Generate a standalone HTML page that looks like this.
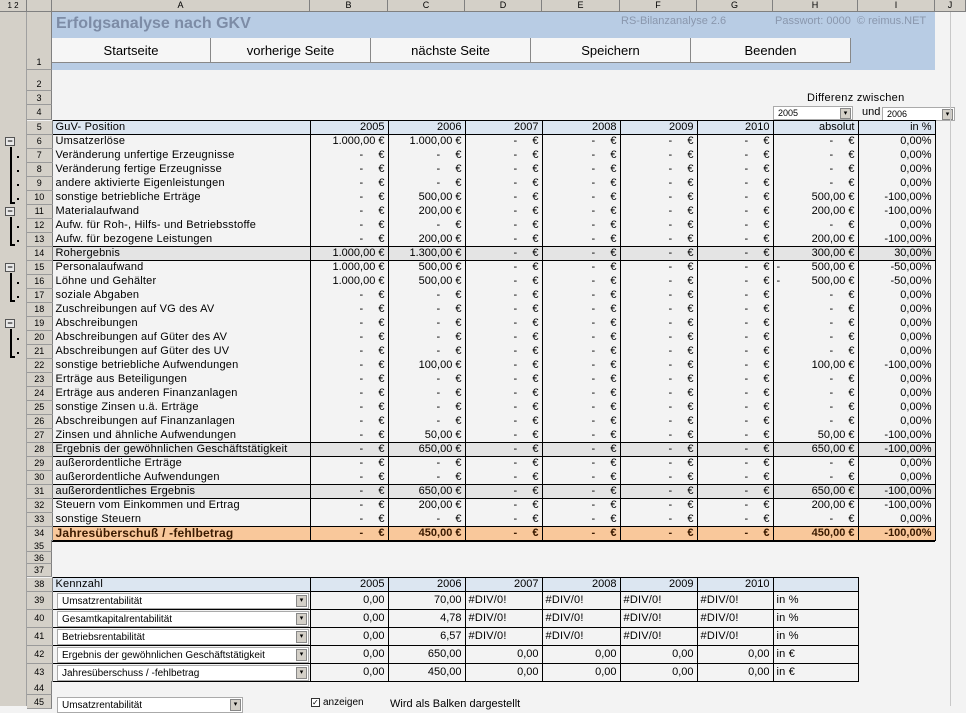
<!DOCTYPE html>
<html><head><meta charset="utf-8">
<style>
*{box-sizing:border-box;margin:0;padding:0}
body{width:966px;height:706px;overflow:hidden;background:#f3f3f3;font-family:"Liberation Sans",sans-serif;font-size:11px;color:#000;position:relative}
.a{position:absolute}
.hdr{top:0;height:12px;background:#d4d0c8;border-right:1px solid #808080;border-bottom:1px solid #808080;font-size:9px;text-align:center;line-height:11px}
.rn{left:27px;width:25px;background:#d4d0c8;border-bottom:1px solid #9a9a9a;border-right:1px solid #808080;font-size:9px;text-align:center}
table{border-collapse:collapse;table-layout:fixed;position:absolute}
td{height:14px;padding:0 3px;white-space:nowrap;overflow:hidden;line-height:13px;border-left:1px solid #000;border-right:1px solid #000;text-align:right;font-size:11px}
td.l{text-align:left;letter-spacing:0.2px}
tr.h td{background:#dce6f1;border-top:1px solid #000;border-bottom:1px solid #000}
tr.g td{background:#e4e4e4;border-top:1px solid #000;border-bottom:1px solid #000}
tr.o td{background:#f9c89b;border-top:1px solid #000;border-bottom:1px solid #000;font-weight:bold;color:#3a1a00}
.btn{top:38px;height:25px;background:#f6f6f6;border-right:1px solid #888;border-bottom:1px solid #888;font-size:13px;text-align:center;line-height:25px}
.k td{height:18px;line-height:17px;border:1px solid #000}
.dd{background:#fff;border:1px solid #aaa;font-size:10px;padding-left:4px;line-height:15px;height:16px}
.ddb{position:absolute;right:1px;top:1px;width:11px;height:12px;background:#d4d0c8;border:1px solid #888;font-size:7px;line-height:10px;text-align:center}
.mn{left:5px;width:10px;height:9px;border:1px solid #555;background:#e8e8e8;font-size:9px;line-height:6px;text-align:center;font-weight:bold}
.br{left:10px;width:5px;border-left:2px solid #000;border-bottom:2px solid #000}
.dot{left:17px;width:2px;height:2px;background:#000}
</style></head><body>
<div class="a hdr" style="left:0;width:27px;font-size:8px">1 2</div>
<div class="a hdr" style="left:27px;width:25px"></div>
<div class="a hdr" style="left:52px;width:258px">A</div>
<div class="a hdr" style="left:310px;width:78px">B</div>
<div class="a hdr" style="left:388px;width:77px">C</div>
<div class="a hdr" style="left:465px;width:77px">D</div>
<div class="a hdr" style="left:542px;width:78px">E</div>
<div class="a hdr" style="left:620px;width:77px">F</div>
<div class="a hdr" style="left:697px;width:76px">G</div>
<div class="a hdr" style="left:773px;width:85px">H</div>
<div class="a hdr" style="left:858px;width:77px">I</div>
<div class="a hdr" style="left:935px;width:31px">J</div>
<div class="a" style="left:0;top:12px;width:27px;height:694px;background:#d4d0c8;border-right:1px solid #a0a0a0"></div>
<div class="a rn" style="top:12px;height:58px;line-height:100px">1</div>
<div class="a rn" style="top:70px;height:21px;line-height:28px">2</div>
<div class="a rn" style="top:91px;height:14px;line-height:14px">3</div>
<div class="a rn" style="top:105px;height:15px;line-height:15px">4</div>
<div class="a" style="left:52px;top:12px;width:883px;height:58px;background:#b8cce4"></div>
<div class="a" style="left:56px;top:15px;font-size:16px;font-weight:bold;color:#7d8ca6">Erfolgsanalyse nach GKV</div>
<div class="a" style="left:621px;top:15px;font-size:11px;color:#8a97ad">RS-Bilanzanalyse 2.6</div>
<div class="a" style="left:775px;top:15px;font-size:11px;color:#8a97ad">Passwort: 0000 &nbsp;© reimus.NET</div>
<div class="a btn" style="left:52px;width:159px">Startseite</div>
<div class="a btn" style="left:211px;width:160px">vorherige Seite</div>
<div class="a btn" style="left:371px;width:160px">nächste Seite</div>
<div class="a btn" style="left:531px;width:160px">Speichern</div>
<div class="a btn" style="left:691px;width:160px">Beenden</div>
<div class="a" style="left:807px;top:92px;font-size:11px;letter-spacing:0.3px">Differenz zwischen</div>
<div class="a dd" style="left:773px;top:106px;width:80px;height:14px;line-height:12px;font-size:9px">2005<div class="ddb" style="height:11px">▾</div></div>
<div class="a" style="left:862px;top:106px">und</div>
<div class="a dd" style="left:882px;top:107px;width:73px;height:14px;line-height:12px;font-size:9px">2006<div class="ddb" style="height:11px">▾</div></div>
<div class="a mn" style="top:137px">−</div><div class="a br" style="top:147px;height:57px"></div>
<div class="a mn" style="top:207px">−</div><div class="a br" style="top:217px;height:29px"></div>
<div class="a mn" style="top:263px">−</div><div class="a br" style="top:273px;height:29px"></div>
<div class="a mn" style="top:319px">−</div><div class="a br" style="top:329px;height:29px"></div>
<div class="a dot" style="top:156px"></div><div class="a dot" style="top:170px"></div><div class="a dot" style="top:184px"></div><div class="a dot" style="top:198px"></div>
<div class="a dot" style="top:226px"></div><div class="a dot" style="top:240px"></div>
<div class="a dot" style="top:282px"></div><div class="a dot" style="top:296px"></div>
<div class="a dot" style="top:338px"></div><div class="a dot" style="top:352px"></div>

<table style="left:27px;top:120px;width:908px">
<colgroup><col style="width:25px"><col style="width:258px"><col style="width:78px"><col style="width:77px"><col style="width:77px"><col style="width:78px"><col style="width:77px"><col style="width:76px"><col style="width:85px"><col style="width:77px"></colgroup>
<tr class="h"><td class="rn">5</td><td class="l">GuV- Position</td><td>2005</td><td>2006</td><td>2007</td><td>2008</td><td>2009</td><td>2010</td><td>absolut</td><td>in %</td></tr>
<tr><td class="rn">6</td><td class="l">Umsatzerlöse</td><td>1.000,00 €</td><td>1.000,00 €</td><td>-&nbsp;&nbsp;&nbsp;&nbsp;&nbsp;€</td><td>-&nbsp;&nbsp;&nbsp;&nbsp;&nbsp;€</td><td>-&nbsp;&nbsp;&nbsp;&nbsp;&nbsp;€</td><td>-&nbsp;&nbsp;&nbsp;&nbsp;&nbsp;€</td><td>-&nbsp;&nbsp;&nbsp;&nbsp;&nbsp;€</td><td>0,00%</td></tr>
<tr><td class="rn">7</td><td class="l">Veränderung unfertige Erzeugnisse</td><td>-&nbsp;&nbsp;&nbsp;&nbsp;&nbsp;€</td><td>-&nbsp;&nbsp;&nbsp;&nbsp;&nbsp;€</td><td>-&nbsp;&nbsp;&nbsp;&nbsp;&nbsp;€</td><td>-&nbsp;&nbsp;&nbsp;&nbsp;&nbsp;€</td><td>-&nbsp;&nbsp;&nbsp;&nbsp;&nbsp;€</td><td>-&nbsp;&nbsp;&nbsp;&nbsp;&nbsp;€</td><td>-&nbsp;&nbsp;&nbsp;&nbsp;&nbsp;€</td><td>0,00%</td></tr>
<tr><td class="rn">8</td><td class="l">Veränderung fertige Erzeugnisse</td><td>-&nbsp;&nbsp;&nbsp;&nbsp;&nbsp;€</td><td>-&nbsp;&nbsp;&nbsp;&nbsp;&nbsp;€</td><td>-&nbsp;&nbsp;&nbsp;&nbsp;&nbsp;€</td><td>-&nbsp;&nbsp;&nbsp;&nbsp;&nbsp;€</td><td>-&nbsp;&nbsp;&nbsp;&nbsp;&nbsp;€</td><td>-&nbsp;&nbsp;&nbsp;&nbsp;&nbsp;€</td><td>-&nbsp;&nbsp;&nbsp;&nbsp;&nbsp;€</td><td>0,00%</td></tr>
<tr><td class="rn">9</td><td class="l">andere aktivierte Eigenleistungen</td><td>-&nbsp;&nbsp;&nbsp;&nbsp;&nbsp;€</td><td>-&nbsp;&nbsp;&nbsp;&nbsp;&nbsp;€</td><td>-&nbsp;&nbsp;&nbsp;&nbsp;&nbsp;€</td><td>-&nbsp;&nbsp;&nbsp;&nbsp;&nbsp;€</td><td>-&nbsp;&nbsp;&nbsp;&nbsp;&nbsp;€</td><td>-&nbsp;&nbsp;&nbsp;&nbsp;&nbsp;€</td><td>-&nbsp;&nbsp;&nbsp;&nbsp;&nbsp;€</td><td>0,00%</td></tr>
<tr><td class="rn">10</td><td class="l">sonstige betriebliche Erträge</td><td>-&nbsp;&nbsp;&nbsp;&nbsp;&nbsp;€</td><td>500,00 €</td><td>-&nbsp;&nbsp;&nbsp;&nbsp;&nbsp;€</td><td>-&nbsp;&nbsp;&nbsp;&nbsp;&nbsp;€</td><td>-&nbsp;&nbsp;&nbsp;&nbsp;&nbsp;€</td><td>-&nbsp;&nbsp;&nbsp;&nbsp;&nbsp;€</td><td>500,00 €</td><td>-100,00%</td></tr>
<tr><td class="rn">11</td><td class="l">Materialaufwand</td><td>-&nbsp;&nbsp;&nbsp;&nbsp;&nbsp;€</td><td>200,00 €</td><td>-&nbsp;&nbsp;&nbsp;&nbsp;&nbsp;€</td><td>-&nbsp;&nbsp;&nbsp;&nbsp;&nbsp;€</td><td>-&nbsp;&nbsp;&nbsp;&nbsp;&nbsp;€</td><td>-&nbsp;&nbsp;&nbsp;&nbsp;&nbsp;€</td><td>200,00 €</td><td>-100,00%</td></tr>
<tr><td class="rn">12</td><td class="l">Aufw. für Roh-, Hilfs- und Betriebsstoffe</td><td>-&nbsp;&nbsp;&nbsp;&nbsp;&nbsp;€</td><td>-&nbsp;&nbsp;&nbsp;&nbsp;&nbsp;€</td><td>-&nbsp;&nbsp;&nbsp;&nbsp;&nbsp;€</td><td>-&nbsp;&nbsp;&nbsp;&nbsp;&nbsp;€</td><td>-&nbsp;&nbsp;&nbsp;&nbsp;&nbsp;€</td><td>-&nbsp;&nbsp;&nbsp;&nbsp;&nbsp;€</td><td>-&nbsp;&nbsp;&nbsp;&nbsp;&nbsp;€</td><td>0,00%</td></tr>
<tr><td class="rn">13</td><td class="l">Aufw. für bezogene Leistungen</td><td>-&nbsp;&nbsp;&nbsp;&nbsp;&nbsp;€</td><td>200,00 €</td><td>-&nbsp;&nbsp;&nbsp;&nbsp;&nbsp;€</td><td>-&nbsp;&nbsp;&nbsp;&nbsp;&nbsp;€</td><td>-&nbsp;&nbsp;&nbsp;&nbsp;&nbsp;€</td><td>-&nbsp;&nbsp;&nbsp;&nbsp;&nbsp;€</td><td>200,00 €</td><td>-100,00%</td></tr>
<tr class="g"><td class="rn">14</td><td class="l">Rohergebnis</td><td>1.000,00 €</td><td>1.300,00 €</td><td>-&nbsp;&nbsp;&nbsp;&nbsp;&nbsp;€</td><td>-&nbsp;&nbsp;&nbsp;&nbsp;&nbsp;€</td><td>-&nbsp;&nbsp;&nbsp;&nbsp;&nbsp;€</td><td>-&nbsp;&nbsp;&nbsp;&nbsp;&nbsp;€</td><td>300,00 €</td><td>30,00%</td></tr>
<tr><td class="rn">15</td><td class="l">Personalaufwand</td><td>1.000,00 €</td><td>500,00 €</td><td>-&nbsp;&nbsp;&nbsp;&nbsp;&nbsp;€</td><td>-&nbsp;&nbsp;&nbsp;&nbsp;&nbsp;€</td><td>-&nbsp;&nbsp;&nbsp;&nbsp;&nbsp;€</td><td>-&nbsp;&nbsp;&nbsp;&nbsp;&nbsp;€</td><td><span style="float:left">-</span>500,00 €</td><td>-50,00%</td></tr>
<tr><td class="rn">16</td><td class="l">Löhne und Gehälter</td><td>1.000,00 €</td><td>500,00 €</td><td>-&nbsp;&nbsp;&nbsp;&nbsp;&nbsp;€</td><td>-&nbsp;&nbsp;&nbsp;&nbsp;&nbsp;€</td><td>-&nbsp;&nbsp;&nbsp;&nbsp;&nbsp;€</td><td>-&nbsp;&nbsp;&nbsp;&nbsp;&nbsp;€</td><td><span style="float:left">-</span>500,00 €</td><td>-50,00%</td></tr>
<tr><td class="rn">17</td><td class="l">soziale Abgaben</td><td>-&nbsp;&nbsp;&nbsp;&nbsp;&nbsp;€</td><td>-&nbsp;&nbsp;&nbsp;&nbsp;&nbsp;€</td><td>-&nbsp;&nbsp;&nbsp;&nbsp;&nbsp;€</td><td>-&nbsp;&nbsp;&nbsp;&nbsp;&nbsp;€</td><td>-&nbsp;&nbsp;&nbsp;&nbsp;&nbsp;€</td><td>-&nbsp;&nbsp;&nbsp;&nbsp;&nbsp;€</td><td>-&nbsp;&nbsp;&nbsp;&nbsp;&nbsp;€</td><td>0,00%</td></tr>
<tr><td class="rn">18</td><td class="l">Zuschreibungen auf VG des AV</td><td>-&nbsp;&nbsp;&nbsp;&nbsp;&nbsp;€</td><td>-&nbsp;&nbsp;&nbsp;&nbsp;&nbsp;€</td><td>-&nbsp;&nbsp;&nbsp;&nbsp;&nbsp;€</td><td>-&nbsp;&nbsp;&nbsp;&nbsp;&nbsp;€</td><td>-&nbsp;&nbsp;&nbsp;&nbsp;&nbsp;€</td><td>-&nbsp;&nbsp;&nbsp;&nbsp;&nbsp;€</td><td>-&nbsp;&nbsp;&nbsp;&nbsp;&nbsp;€</td><td>0,00%</td></tr>
<tr><td class="rn">19</td><td class="l">Abschreibungen</td><td>-&nbsp;&nbsp;&nbsp;&nbsp;&nbsp;€</td><td>-&nbsp;&nbsp;&nbsp;&nbsp;&nbsp;€</td><td>-&nbsp;&nbsp;&nbsp;&nbsp;&nbsp;€</td><td>-&nbsp;&nbsp;&nbsp;&nbsp;&nbsp;€</td><td>-&nbsp;&nbsp;&nbsp;&nbsp;&nbsp;€</td><td>-&nbsp;&nbsp;&nbsp;&nbsp;&nbsp;€</td><td>-&nbsp;&nbsp;&nbsp;&nbsp;&nbsp;€</td><td>0,00%</td></tr>
<tr><td class="rn">20</td><td class="l">Abschreibungen auf Güter des AV</td><td>-&nbsp;&nbsp;&nbsp;&nbsp;&nbsp;€</td><td>-&nbsp;&nbsp;&nbsp;&nbsp;&nbsp;€</td><td>-&nbsp;&nbsp;&nbsp;&nbsp;&nbsp;€</td><td>-&nbsp;&nbsp;&nbsp;&nbsp;&nbsp;€</td><td>-&nbsp;&nbsp;&nbsp;&nbsp;&nbsp;€</td><td>-&nbsp;&nbsp;&nbsp;&nbsp;&nbsp;€</td><td>-&nbsp;&nbsp;&nbsp;&nbsp;&nbsp;€</td><td>0,00%</td></tr>
<tr><td class="rn">21</td><td class="l">Abschreibungen auf Güter des UV</td><td>-&nbsp;&nbsp;&nbsp;&nbsp;&nbsp;€</td><td>-&nbsp;&nbsp;&nbsp;&nbsp;&nbsp;€</td><td>-&nbsp;&nbsp;&nbsp;&nbsp;&nbsp;€</td><td>-&nbsp;&nbsp;&nbsp;&nbsp;&nbsp;€</td><td>-&nbsp;&nbsp;&nbsp;&nbsp;&nbsp;€</td><td>-&nbsp;&nbsp;&nbsp;&nbsp;&nbsp;€</td><td>-&nbsp;&nbsp;&nbsp;&nbsp;&nbsp;€</td><td>0,00%</td></tr>
<tr><td class="rn">22</td><td class="l">sonstige betriebliche Aufwendungen</td><td>-&nbsp;&nbsp;&nbsp;&nbsp;&nbsp;€</td><td>100,00 €</td><td>-&nbsp;&nbsp;&nbsp;&nbsp;&nbsp;€</td><td>-&nbsp;&nbsp;&nbsp;&nbsp;&nbsp;€</td><td>-&nbsp;&nbsp;&nbsp;&nbsp;&nbsp;€</td><td>-&nbsp;&nbsp;&nbsp;&nbsp;&nbsp;€</td><td>100,00 €</td><td>-100,00%</td></tr>
<tr><td class="rn">23</td><td class="l">Erträge aus Beteiligungen</td><td>-&nbsp;&nbsp;&nbsp;&nbsp;&nbsp;€</td><td>-&nbsp;&nbsp;&nbsp;&nbsp;&nbsp;€</td><td>-&nbsp;&nbsp;&nbsp;&nbsp;&nbsp;€</td><td>-&nbsp;&nbsp;&nbsp;&nbsp;&nbsp;€</td><td>-&nbsp;&nbsp;&nbsp;&nbsp;&nbsp;€</td><td>-&nbsp;&nbsp;&nbsp;&nbsp;&nbsp;€</td><td>-&nbsp;&nbsp;&nbsp;&nbsp;&nbsp;€</td><td>0,00%</td></tr>
<tr><td class="rn">24</td><td class="l">Erträge aus anderen Finanzanlagen</td><td>-&nbsp;&nbsp;&nbsp;&nbsp;&nbsp;€</td><td>-&nbsp;&nbsp;&nbsp;&nbsp;&nbsp;€</td><td>-&nbsp;&nbsp;&nbsp;&nbsp;&nbsp;€</td><td>-&nbsp;&nbsp;&nbsp;&nbsp;&nbsp;€</td><td>-&nbsp;&nbsp;&nbsp;&nbsp;&nbsp;€</td><td>-&nbsp;&nbsp;&nbsp;&nbsp;&nbsp;€</td><td>-&nbsp;&nbsp;&nbsp;&nbsp;&nbsp;€</td><td>0,00%</td></tr>
<tr><td class="rn">25</td><td class="l">sonstige Zinsen u.ä. Erträge</td><td>-&nbsp;&nbsp;&nbsp;&nbsp;&nbsp;€</td><td>-&nbsp;&nbsp;&nbsp;&nbsp;&nbsp;€</td><td>-&nbsp;&nbsp;&nbsp;&nbsp;&nbsp;€</td><td>-&nbsp;&nbsp;&nbsp;&nbsp;&nbsp;€</td><td>-&nbsp;&nbsp;&nbsp;&nbsp;&nbsp;€</td><td>-&nbsp;&nbsp;&nbsp;&nbsp;&nbsp;€</td><td>-&nbsp;&nbsp;&nbsp;&nbsp;&nbsp;€</td><td>0,00%</td></tr>
<tr><td class="rn">26</td><td class="l">Abschreibungen auf Finanzanlagen</td><td>-&nbsp;&nbsp;&nbsp;&nbsp;&nbsp;€</td><td>-&nbsp;&nbsp;&nbsp;&nbsp;&nbsp;€</td><td>-&nbsp;&nbsp;&nbsp;&nbsp;&nbsp;€</td><td>-&nbsp;&nbsp;&nbsp;&nbsp;&nbsp;€</td><td>-&nbsp;&nbsp;&nbsp;&nbsp;&nbsp;€</td><td>-&nbsp;&nbsp;&nbsp;&nbsp;&nbsp;€</td><td>-&nbsp;&nbsp;&nbsp;&nbsp;&nbsp;€</td><td>0,00%</td></tr>
<tr><td class="rn">27</td><td class="l">Zinsen und ähnliche Aufwendungen</td><td>-&nbsp;&nbsp;&nbsp;&nbsp;&nbsp;€</td><td>50,00 €</td><td>-&nbsp;&nbsp;&nbsp;&nbsp;&nbsp;€</td><td>-&nbsp;&nbsp;&nbsp;&nbsp;&nbsp;€</td><td>-&nbsp;&nbsp;&nbsp;&nbsp;&nbsp;€</td><td>-&nbsp;&nbsp;&nbsp;&nbsp;&nbsp;€</td><td>50,00 €</td><td>-100,00%</td></tr>
<tr class="g"><td class="rn">28</td><td class="l">Ergebnis der gewöhnlichen Geschäftstätigkeit</td><td>-&nbsp;&nbsp;&nbsp;&nbsp;&nbsp;€</td><td>650,00 €</td><td>-&nbsp;&nbsp;&nbsp;&nbsp;&nbsp;€</td><td>-&nbsp;&nbsp;&nbsp;&nbsp;&nbsp;€</td><td>-&nbsp;&nbsp;&nbsp;&nbsp;&nbsp;€</td><td>-&nbsp;&nbsp;&nbsp;&nbsp;&nbsp;€</td><td>650,00 €</td><td>-100,00%</td></tr>
<tr><td class="rn">29</td><td class="l">außerordentliche Erträge</td><td>-&nbsp;&nbsp;&nbsp;&nbsp;&nbsp;€</td><td>-&nbsp;&nbsp;&nbsp;&nbsp;&nbsp;€</td><td>-&nbsp;&nbsp;&nbsp;&nbsp;&nbsp;€</td><td>-&nbsp;&nbsp;&nbsp;&nbsp;&nbsp;€</td><td>-&nbsp;&nbsp;&nbsp;&nbsp;&nbsp;€</td><td>-&nbsp;&nbsp;&nbsp;&nbsp;&nbsp;€</td><td>-&nbsp;&nbsp;&nbsp;&nbsp;&nbsp;€</td><td>0,00%</td></tr>
<tr><td class="rn">30</td><td class="l">außerordentliche Aufwendungen</td><td>-&nbsp;&nbsp;&nbsp;&nbsp;&nbsp;€</td><td>-&nbsp;&nbsp;&nbsp;&nbsp;&nbsp;€</td><td>-&nbsp;&nbsp;&nbsp;&nbsp;&nbsp;€</td><td>-&nbsp;&nbsp;&nbsp;&nbsp;&nbsp;€</td><td>-&nbsp;&nbsp;&nbsp;&nbsp;&nbsp;€</td><td>-&nbsp;&nbsp;&nbsp;&nbsp;&nbsp;€</td><td>-&nbsp;&nbsp;&nbsp;&nbsp;&nbsp;€</td><td>0,00%</td></tr>
<tr class="g"><td class="rn">31</td><td class="l">außerordentliches Ergebnis</td><td>-&nbsp;&nbsp;&nbsp;&nbsp;&nbsp;€</td><td>650,00 €</td><td>-&nbsp;&nbsp;&nbsp;&nbsp;&nbsp;€</td><td>-&nbsp;&nbsp;&nbsp;&nbsp;&nbsp;€</td><td>-&nbsp;&nbsp;&nbsp;&nbsp;&nbsp;€</td><td>-&nbsp;&nbsp;&nbsp;&nbsp;&nbsp;€</td><td>650,00 €</td><td>-100,00%</td></tr>
<tr><td class="rn">32</td><td class="l">Steuern vom Einkommen und Ertrag</td><td>-&nbsp;&nbsp;&nbsp;&nbsp;&nbsp;€</td><td>200,00 €</td><td>-&nbsp;&nbsp;&nbsp;&nbsp;&nbsp;€</td><td>-&nbsp;&nbsp;&nbsp;&nbsp;&nbsp;€</td><td>-&nbsp;&nbsp;&nbsp;&nbsp;&nbsp;€</td><td>-&nbsp;&nbsp;&nbsp;&nbsp;&nbsp;€</td><td>200,00 €</td><td>-100,00%</td></tr>
<tr><td class="rn">33</td><td class="l">sonstige Steuern</td><td>-&nbsp;&nbsp;&nbsp;&nbsp;&nbsp;€</td><td>-&nbsp;&nbsp;&nbsp;&nbsp;&nbsp;€</td><td>-&nbsp;&nbsp;&nbsp;&nbsp;&nbsp;€</td><td>-&nbsp;&nbsp;&nbsp;&nbsp;&nbsp;€</td><td>-&nbsp;&nbsp;&nbsp;&nbsp;&nbsp;€</td><td>-&nbsp;&nbsp;&nbsp;&nbsp;&nbsp;€</td><td>-&nbsp;&nbsp;&nbsp;&nbsp;&nbsp;€</td><td>0,00%</td></tr>
<tr class="o"><td class="rn">34</td><td class="l" style="font-size:12px">Jahresüberschuß / -fehlbetrag</td><td>-&nbsp;&nbsp;&nbsp;&nbsp;&nbsp;€</td><td>450,00 €</td><td>-&nbsp;&nbsp;&nbsp;&nbsp;&nbsp;€</td><td>-&nbsp;&nbsp;&nbsp;&nbsp;&nbsp;€</td><td>-&nbsp;&nbsp;&nbsp;&nbsp;&nbsp;€</td><td>-&nbsp;&nbsp;&nbsp;&nbsp;&nbsp;€</td><td>450,00 €</td><td>-100,00%</td></tr>
</table>
<style>td.rn{background:#d4d0c8 !important;border-left:none !important;border-right:1px solid #808080 !important;border-top:none !important;border-bottom:1px solid #9a9a9a !important;text-align:center;font-size:9px;color:#000 !important;padding:0;font-weight:normal !important}</style>
<div class="a" style="left:52px;top:541px;width:883px;height:1px;background:#000"></div>
<div class="a rn" style="top:540px;height:12px;line-height:12px">35</div>
<div class="a rn" style="top:552px;height:12px;line-height:12px">36</div>
<div class="a rn" style="top:564px;height:13px;line-height:13px">37</div>

<table class="k" style="left:27px;top:577px;width:831px">
<colgroup><col style="width:25px"><col style="width:258px"><col style="width:78px"><col style="width:77px"><col style="width:77px"><col style="width:78px"><col style="width:77px"><col style="width:76px"><col style="width:85px"></colgroup>
<tr class="h"><td class="rn" style="height:14px;line-height:13px">38</td><td class="l" style="height:14px;line-height:13px">Kennzahl</td><td style="height:14px;line-height:13px">2005</td><td style="height:14px;line-height:13px">2006</td><td style="height:14px;line-height:13px">2007</td><td style="height:14px;line-height:13px">2008</td><td style="height:14px;line-height:13px">2009</td><td style="height:14px;line-height:13px">2010</td><td style="height:14px"></td></tr>
<tr><td class="rn">39</td><td class="l"></td><td>0,00</td><td>70,00</td><td class="l">#DIV/0!</td><td class="l">#DIV/0!</td><td class="l">#DIV/0!</td><td class="l">#DIV/0!</td><td class="l">in %</td></tr>
<tr><td class="rn">40</td><td class="l"></td><td>0,00</td><td>4,78</td><td class="l">#DIV/0!</td><td class="l">#DIV/0!</td><td class="l">#DIV/0!</td><td class="l">#DIV/0!</td><td class="l">in %</td></tr>
<tr><td class="rn">41</td><td class="l"></td><td>0,00</td><td>6,57</td><td class="l">#DIV/0!</td><td class="l">#DIV/0!</td><td class="l">#DIV/0!</td><td class="l">#DIV/0!</td><td class="l">in %</td></tr>
<tr><td class="rn">42</td><td class="l"></td><td>0,00</td><td>650,00</td><td>0,00</td><td>0,00</td><td>0,00</td><td>0,00</td><td class="l">in €</td></tr>
<tr><td class="rn">43</td><td class="l"></td><td>0,00</td><td>450,00</td><td>0,00</td><td>0,00</td><td>0,00</td><td>0,00</td><td class="l">in €</td></tr>
</table>
<div class="a dd" style="left:57px;top:593px;width:252px">Umsatzrentabilität<div class="ddb">▾</div></div>
<div class="a dd" style="left:57px;top:611px;width:252px">Gesamtkapitalrentabilität<div class="ddb">▾</div></div>
<div class="a dd" style="left:57px;top:629px;width:252px">Betriebsrentabilität<div class="ddb">▾</div></div>
<div class="a dd" style="left:57px;top:647px;width:252px">Ergebnis der gewöhnlichen Geschäftstätigkeit<div class="ddb">▾</div></div>
<div class="a dd" style="left:57px;top:665px;width:252px">Jahresüberschuss / -fehlbetrag<div class="ddb">▾</div></div>
<div class="a rn" style="top:681px;height:14px;line-height:14px">44</div>
<div class="a rn" style="top:695px;height:14px;line-height:14px">45</div>
<div class="a dd" style="left:57px;top:697px;width:186px">Umsatzrentabilität<div class="ddb">▾</div></div>
<div class="a" style="left:311px;top:698px;width:9px;height:9px;border:1px solid #333;background:#fff;font-size:8px;line-height:7px">✓</div>
<div class="a" style="left:323px;top:697px;font-size:10px">anzeigen</div>
<div class="a" style="left:390px;top:698px;font-size:11px">Wird als Balken dargestellt</div>
<div class="a" style="left:950px;top:12px;width:1px;height:694px;background:#c8c8c8"></div>
</body></html>
